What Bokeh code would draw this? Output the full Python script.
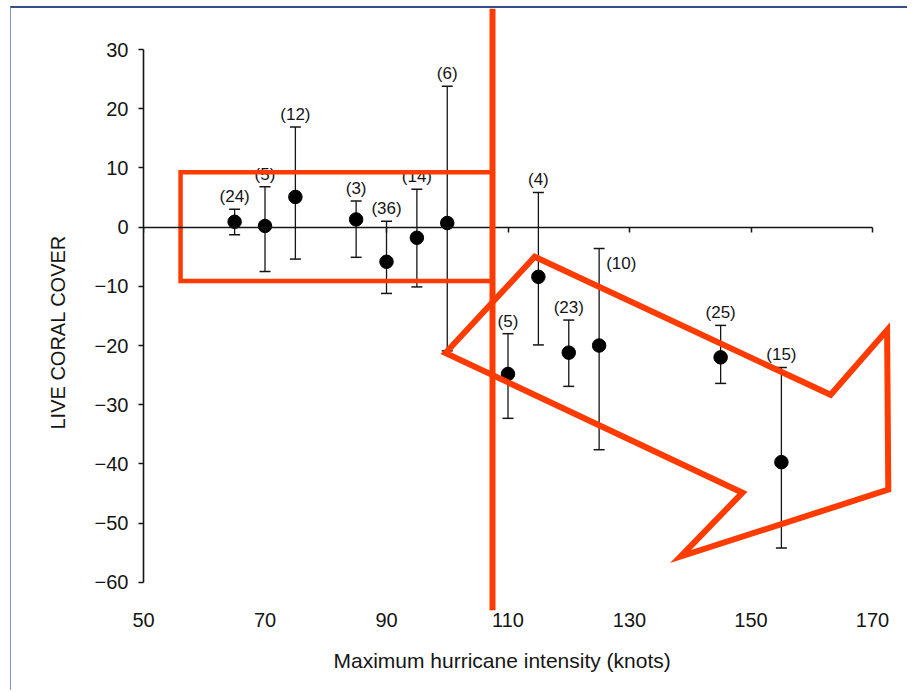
from bokeh.plotting import figure
from bokeh.models import (ColumnDataSource, Whisker, TeeHead, Span, Title, LinearAxis,
                          FixedTicker, CustomJSTickFormatter, Range1d)
from bokeh.core.properties import value
from bokeh.embed import file_html
from bokeh.resources import INLINE

# ---- data ----
intensity = [65, 70, 75, 85, 90, 95, 100, 110, 115, 120, 125, 145, 155]
mean_change = [0.9, 0.2, 5.1, 1.3, -5.85, -1.8, 0.7, -24.8, -8.4, -21.2, -20.0, -22.0, -39.7]
upper_err = [3.0, 6.8, 16.9, 4.4, 1.0, 6.4, 23.8, -18.0, 5.85, -15.7, -3.6, -16.6, -23.7]
lower_err = [-1.3, -7.5, -5.4, -5.1, -11.2, -10.1, -20.9, -32.3, -19.9, -26.9, -37.6, -26.4, -54.2]
sample_n = [24, 5, 12, 3, 36, 14, 6, 5, 4, 23, 10, 25, 15]
x_ticks = [50, 70, 90, 110, 130, 150, 170]
y_ticks = [-60, -50, -40, -30, -20, -10, 0, 10, 20, 30]

# annotation shapes (slide overlay), in data units
box_x = [56.1, 107.45]
box_y = [-9.1, 9.27]
divider_x = 107.45
arrow_x = [99.71, 114.4, 163.1, 172.4, 172.6, 138.4, 148.6]
arrow_y = [-21.25, -5.0, -28.33, -17.4, -44.35, -55.65, -44.86]

RED = "#ff3b00"
FONT = "Liberation Sans"
INK = "#151515"

labels = ["(%d)" % n for n in sample_n]
side_idx = [i for i, n in enumerate(sample_n) if n == 10]
top_idx = [i for i in range(len(sample_n)) if i not in side_idx]

src = ColumnDataSource(dict(x=intensity, m=mean_change, up=upper_err, lo=lower_err, lab=labels))
src_top = ColumnDataSource(dict(x=[intensity[i] for i in top_idx], up=[upper_err[i] for i in top_idx],
                                lab=[labels[i] for i in top_idx]))
src_side = ColumnDataSource(dict(x=[intensity[i] for i in side_idx], up=[upper_err[i] for i in side_idx],
                                 lab=[labels[i] for i in side_idx]))

p = figure(width=897, height=684, x_range=Range1d(50, 175.43), y_range=Range1d(-64.76, 36.93),
           output_backend="svg", toolbar_location=None,
           min_border_left=132, min_border_right=3, min_border_top=0, min_border_bottom=81)
p.outline_line_color = None
p.xgrid.visible = False
p.ygrid.visible = False
p.background_fill_color = "white"
p.border_fill_color = "white"

# y axis
ya = p.yaxis[0]
ya.ticker = FixedTicker(ticks=y_ticks)
ya.bounds = (y_ticks[0], y_ticks[-1])
ya.formatter = CustomJSTickFormatter(code="return tick < 0 ? '\u2212' + Math.abs(tick) : String(tick);")
ya.axis_line_width = 1.6
ya.axis_line_color = INK
ya.major_tick_line_color = INK
ya.major_tick_line_width = 1.5
ya.major_tick_out = 5
ya.major_tick_in = 0
ya.minor_tick_line_color = None
ya.major_label_standoff = 10
ya.major_label_text_font = FONT
ya.major_label_text_font_size = "20px"
ya.major_label_text_color = INK

# bottom axis: labels only
xa = p.xaxis[0]
xa.ticker = FixedTicker(ticks=x_ticks)
xa.axis_line_color = None
xa.major_tick_line_color = None
xa.major_tick_out = 0
xa.major_tick_in = 0
xa.minor_tick_line_color = None
xa.major_label_standoff = 2
xa.major_label_text_font = FONT
xa.major_label_text_font_size = "20px"
xa.major_label_text_color = INK

# zero line axis with ticks
za = LinearAxis(fixed_location=0, ticker=FixedTicker(ticks=x_ticks), bounds=(x_ticks[0], x_ticks[-1]),
                major_label_overrides={t: "" for t in x_ticks})
za.axis_line_width = 1.6
za.axis_line_color = INK
za.major_tick_line_color = INK
za.major_tick_line_width = 1.5
za.major_tick_out = 5
za.major_tick_in = 0
za.minor_tick_line_color = None
za.major_label_standoff = 0
za.major_label_text_font_size = "1px"
p.add_layout(za, "below")

xt = Title(text="Maximum hurricane intensity (knots)", align="left", offset=190, vertical_align="top",
           standoff=38, text_font=FONT, text_font_size="21px", text_font_style="normal", text_color=INK)
p.add_layout(xt, "below")

yt = Title(text="LIVE CORAL COVER", align="left", offset=181, vertical_align="bottom",
           standoff=46, text_font=FONT, text_font_size="20px", text_font_style="normal", text_color=INK)
p.add_layout(yt, "left")

# error bars
wh = Whisker(base="x", upper="up", lower="lo", source=src, dimension="height",
             line_color=INK, line_width=1.3,
             upper_head=TeeHead(size=11, line_color=INK, line_width=1.5),
             lower_head=TeeHead(size=11, line_color=INK, line_width=1.5))
p.add_layout(wh)

p.scatter("x", "m", source=src, size=13.5, color="black")

p.text("x", "up", text="lab", source=src_top, text_align="center", text_baseline="bottom", y_offset=-3,
       text_font=value(FONT), text_font_size="17px", text_color=INK)
p.text("x", "up", text="lab", source=src_side, text_align="left", text_baseline="middle", x_offset=7,
       y_offset=15, text_font=value(FONT), text_font_size="17px", text_color=INK)

# slide overlay annotations
p.quad(left=[box_x[0]], right=[box_x[1]], bottom=[box_y[0]], top=[box_y[1]],
       fill_color=None, line_color=RED, line_width=4.5, line_join="miter")
p.add_layout(Span(location=divider_x, dimension="height", line_color=RED, line_width=6))
p.patch(arrow_x, arrow_y, fill_color=None, line_color=RED, line_width=6, line_join="miter")

p.styles = {"border-top": "2px solid #34508c", "border-left": "1px solid #7f98c8",
            "margin-left": "10px", "margin-top": "6px"}

open("out.html", "w").write(file_html(p, INLINE))
